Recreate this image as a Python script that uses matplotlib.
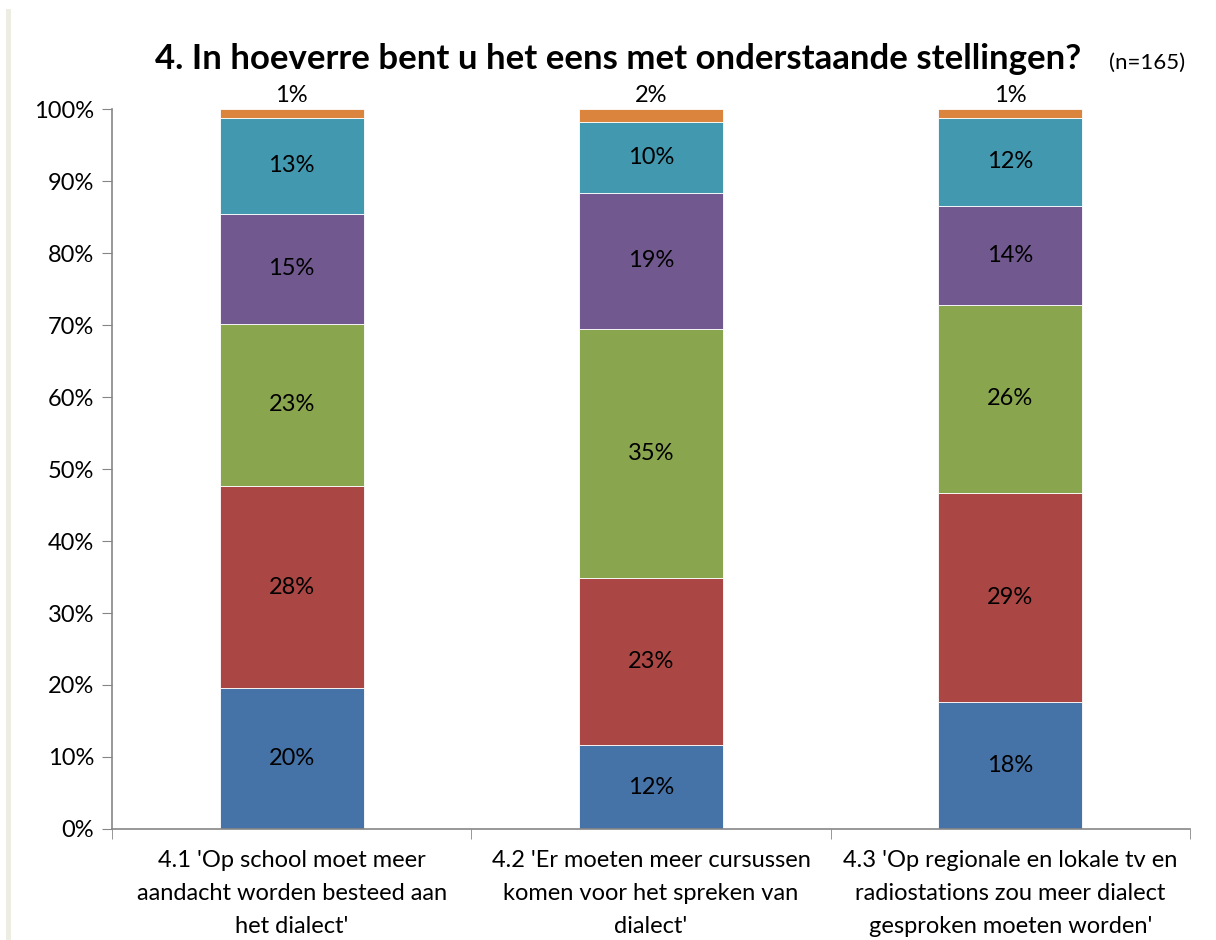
import numpy as np
import matplotlib.pyplot as plt
from matplotlib.patches import Rectangle

plt.rcParams['font.family'] = ['Lato', 'DejaVu Sans']

# statements (x categories)
categories = [
    "4.1 'Op school moet meer\naandacht worden besteed aan\nhet dialect'",
    "4.2 'Er moeten meer cursussen\nkomen voor het spreken van\ndialect'",
    "4.3 'Op regionale en lokale tv en\nradiostations zou meer dialect\ngesproken moeten worden'",
]

# answer shares in percent, bottom to top
seg1 = [19.6, 11.6, 17.7]
seg2 = [28.0, 23.2, 29.0]
seg3 = [22.6, 34.7, 26.1]
seg4 = [15.2, 18.9, 13.8]
seg5 = [13.4, 9.8, 12.2]
seg6 = [1.2, 1.8, 1.2]

series = [seg1, seg2, seg3, seg4, seg5, seg6]
colors = ['#4572A7', '#AA4643', '#89A54E', '#71588F', '#4198AF', '#DB843D']

TITLE = '4. In hoeverre bent u het eens met onderstaande stellingen?'
SUBTITLE = '(n=165)'
AXIS_COLOR = '#868686'
FS = 17

fig = plt.figure(figsize=(12.16, 9.4), dpi=100)
ax = fig.add_axes([0.0921, 0.1181, 0.8865, 0.7659])

# light stripe at the left edge of the slide
fig.patches.append(Rectangle((0.005, 0.0), 0.004, 0.99, transform=fig.transFigure,
                             facecolor='#EDEDE3', edgecolor='none'))

x = np.arange(len(categories))
bottom = np.zeros(len(categories))
for i, (vals, col) in enumerate(zip(series, colors)):
    vals = np.array(vals)
    ax.bar(x, vals, 0.40, bottom=bottom, color=col, edgecolor='white',
           linewidth=0.6, zorder=2)
    for xi, b, v in zip(x, bottom, vals):
        if i == len(series) - 1:
            ax.text(xi, b + v + 0.4, '{:.0f}%'.format(v), ha='center',
                    va='bottom', fontsize=FS)
        else:
            ax.text(xi, b + v / 2, '{:.0f}%'.format(v), ha='center',
                    va='center', fontsize=FS)
    bottom += vals

ax.set_xlim(-0.5, 2.5)
ax.set_ylim(0, 100)
ax.set_yticks(np.arange(0, 101, 10))
ax.set_yticklabels(['{}%'.format(t) for t in range(0, 101, 10)], fontsize=FS)
ax.set_xticks(x)
ax.set_xticklabels(categories, fontsize=FS, linespacing=1.7)
ax.set_xticks([-0.5, 0.5, 1.5, 2.5], minor=True)
ax.tick_params(axis='x', which='major', length=0, pad=15)
ax.tick_params(axis='x', which='minor', length=7, color=AXIS_COLOR, direction='out')
ax.tick_params(axis='y', length=7, color=AXIS_COLOR, direction='out', pad=6)

for s in ['top', 'right']:
    ax.spines[s].set_visible(False)
for s in ['left', 'bottom']:
    ax.spines[s].set_color(AXIS_COLOR)
    ax.spines[s].set_linewidth(1.2)

fig.text(0.508, 0.937, TITLE, ha='center', va='center', fontsize=25,
         fontweight='bold')
fig.text(0.975, 0.933, SUBTITLE, ha='right', va='center', fontsize=16)

plt.savefig('out.png', dpi=100)
